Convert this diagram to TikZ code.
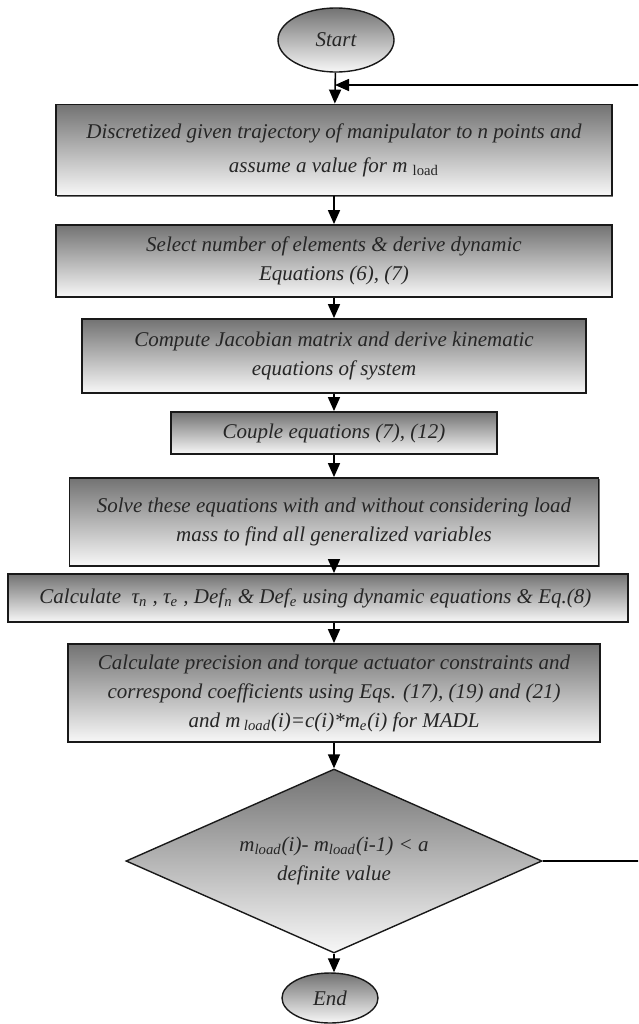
\documentclass[tikz,border=0pt]{standalone}
\usepackage{fontspec}
\setmainfont{Liberation Serif}
\usetikzlibrary{shapes.geometric,arrows.meta,shadows}

\begin{document}
\begin{tikzpicture}[x=0.5pt,y=-0.5pt,
        every node/.style={font=\itshape\fontsize{10.5}{14.5}\selectfont,text=black!85,align=center},
        shade/.style={top color=black!55,bottom color=black!3},
        procbox/.style={shade,draw=black!90,line width=0.9pt,inner sep=0pt,
            drop shadow={shadow xshift=0.7pt,shadow yshift=-0.7pt,fill=black!55,opacity=1}},
        termbox/.style={shade,ellipse,draw=black!90,line width=0.7pt,inner sep=0pt},
        testbox/.style={shade,diamond,aspect=2.26,draw=black!90,line width=0.7pt,inner sep=0pt},
        flowarrow/.style={line width=0.8pt,-{Triangle[length=7pt,width=6pt]}}]
        % Fix page size
        \path[use as bounding box,clip] (0,0) rectangle (638,1024);
        % Draw start
        \node[termbox,minimum width=58pt,minimum height=32pt] (start) at (336,40) {Start};
        % Draw steps
        \node[procbox,minimum width=278pt,minimum height=45.5pt,font=\itshape\fontsize{10.5}{17}\selectfont] (discrete) at (334,150) {
            Discretized given trajectory of manipulator to n points and\\
            assume a value for m {\upshape\textsubscript{load}}
        };
        \node[procbox,minimum width=278pt,minimum height=36pt] (select) at (334,261) {
            Select number of elements \& derive dynamic\\
            Equations (6), (7)
        };
        \node[procbox,minimum width=252pt,minimum height=37pt] (jacobian) at (334,356) {
            Compute Jacobian matrix and derive kinematic\\
            equations of system
        };
        \node[procbox,minimum width=163pt,minimum height=21pt] (couple) at (334,433) {Couple equations (7), (12)};
        \node[procbox,minimum width=264.5pt,minimum height=44pt] (solve) at (334,522) {
            Solve these equations with and without considering load\\
            mass to find all generalized variables
        };
        \node[procbox,minimum width=310pt,minimum height=24pt] (torque) at (318,598) {
            Calculate \ τ\textsubscript{n} , τ\textsubscript{e} , Def\textsubscript{n} \& Def\textsubscript{e} using dynamic equations \& Eq.(8)
        };
        \node[procbox,minimum width=266pt,minimum height=49pt] (precision) at (334,693) {
            Calculate precision and torque actuator constraints and\\
            correspond coefficients using Eqs. (17), (19) and (21)\\
            and m\,\textsubscript{load}(i)=c(i)*m\textsubscript{e}(i) for MADL
        };
        % Draw check
        \node[testbox,minimum width=208pt,minimum height=92pt] (check) at (334,861) {
            m\textsubscript{load}(i)- m\textsubscript{load}(i-1) < a\\
            definite value
        };
        % Draw end
        \node[termbox,minimum width=48pt,minimum height=25pt] (end) at (330,998) {End};
        % Draw arrows
        \coordinate (loop) at (335,85);
        \draw[flowarrow] (start) -- (discrete);
        \draw[flowarrow] (discrete) -- (select);
        \draw[flowarrow] (select) -- (jacobian);
        \draw[flowarrow] (jacobian) -- (couple);
        \draw[flowarrow] (couple) -- (solve);
        \draw[flowarrow] (solve.south) -- (solve.south |- torque.north);
        \draw[flowarrow] (solve.south |- torque.south) -- (precision);
        \draw[flowarrow] (precision) -- (check);
        \draw[flowarrow] (check.south) -- (end.north -| check.south);
        % Draw loop back
        \draw[flowarrow] (check.east) -- (700,861) |- (loop);
    \end{tikzpicture}
\end{document}
